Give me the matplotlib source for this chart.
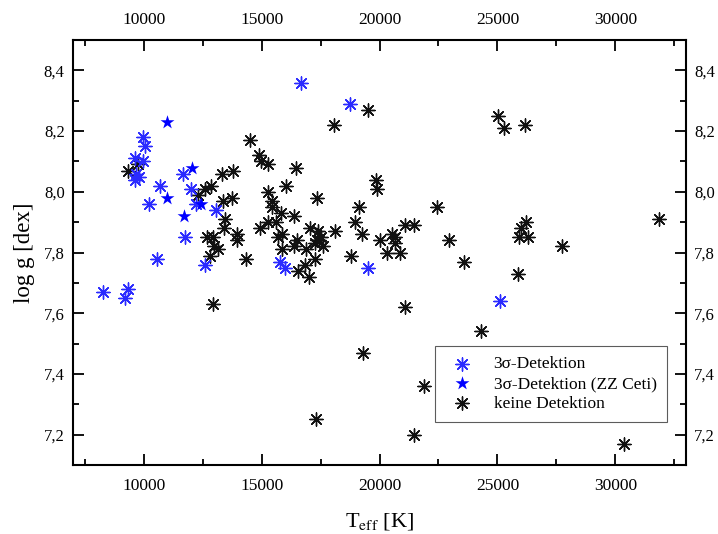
import matplotlib

matplotlib.use("Agg")
import matplotlib.pyplot as plt  # noqa: E402
from matplotlib.ticker import FuncFormatter, MultipleLocator  # noqa: E402

# 3sigma detections (plain asterisks)
det_teff = [16660, 18750, 9960, 10060, 9630, 9960, 9680, 9790, 9650, 11675,
            10680, 12010, 10210, 12200, 13050, 11730, 10570, 12610, 15800,
            15980, 8290, 9320, 9220, 19500, 25130]
det_logg = [8.36, 8.29, 8.18, 8.15, 8.11, 8.10, 8.06, 8.05, 8.04, 8.06,
            8.02, 8.01, 7.96, 7.96, 7.94, 7.85, 7.78, 7.76, 7.77,
            7.75, 7.67, 7.68, 7.65, 7.75, 7.64]

# 3sigma detections, ZZ Ceti stars
zz_teff = [11000, 12060, 10980, 12440, 11700]
zz_logg = [8.23, 8.08, 7.98, 7.96, 7.92]

# no detection
non_teff = [9320, 9745, 12300, 12600, 12850, 13300, 13780, 14490, 14880, 14990,
            15270, 16450, 15270, 15420, 15460, 15840, 16370, 16050, 17360, 13740,
            13360, 13460, 13390, 12700, 12930, 12960, 13150, 12790, 13970, 13970,
            14320, 12930, 14920, 15270, 15630, 15700, 15860, 15870, 16370, 16480,
            16550, 16830, 16900, 17020, 17050, 17260, 17330, 17400, 17510, 17620,
            17270, 17450, 18080, 19510, 19850, 19880, 19120, 18940, 18100, 19240,
            18800, 20000, 20550, 20670, 20670, 20300, 20880, 21100, 21450, 22420,
            22950, 23600, 25020, 25280, 26170, 25990, 26210, 25930, 26310, 25880,
            27740, 31870, 21100, 24300, 19300, 21880, 17290, 21470, 30370]
non_logg = [8.07, 8.09, 7.99, 8.01, 8.02, 8.06, 8.07, 8.17, 8.12, 8.10,
            8.09, 8.08, 8.00, 7.97, 7.95, 7.93, 7.92, 8.02, 7.98, 7.98,
            7.97, 7.91, 7.88, 7.85, 7.85, 7.82, 7.81, 7.79, 7.86, 7.84,
            7.78, 7.63, 7.88, 7.90, 7.90, 7.85, 7.86, 7.81, 7.82, 7.84,
            7.74, 7.76, 7.81, 7.72, 7.88, 7.78, 7.84, 7.87, 7.85, 7.82,
            7.83, 7.84, 8.22, 8.27, 8.04, 8.01, 7.95, 7.90, 7.87, 7.86,
            7.79, 7.84, 7.86, 7.85, 7.83, 7.80, 7.80, 7.89, 7.89, 7.95,
            7.84, 7.77, 8.25, 8.21, 8.22, 7.88, 7.90, 7.85, 7.85, 7.73,
            7.82, 7.91, 7.62, 7.54, 7.47, 7.36, 7.25, 7.20, 7.17]

plt.rcParams["font.family"] = ["Liberation Serif", "DejaVu Serif"]
plt.rcParams["mathtext.fontset"] = "stix"

fig, ax = plt.subplots(figsize=(7.18, 5.34), dpi=100)
fig.subplots_adjust(left=73 / 718, right=686 / 718, top=1 - 40 / 534,
                    bottom=1 - 465 / 534)

star8 = (8, 2, 0)
ax.scatter(det_teff, det_logg, marker=star8, s=90, color="#2a2aff", lw=1.0,
           label="3σ-Detektion", zorder=3)
ax.scatter(zz_teff, zz_logg, marker="*", s=110, color="#0000ff", lw=0,
           label="3σ-Detektion (ZZ Ceti)", zorder=4)
ax.scatter(non_teff, non_logg, marker=star8, s=90, color="#111111", lw=1.0,
           label="keine Detektion", zorder=2)

ax.set_xlim(7000, 33000)
ax.set_ylim(7.1, 8.5)
ax.xaxis.set_major_locator(MultipleLocator(5000))
ax.xaxis.set_minor_locator(MultipleLocator(2500))
ax.yaxis.set_major_locator(MultipleLocator(0.2))
ax.yaxis.set_minor_locator(MultipleLocator(0.1))
ax.yaxis.set_major_formatter(FuncFormatter(lambda v, _: f"{v:.1f}".replace(".", ",")))

ax.tick_params(which="both", direction="in", top=True, right=True,
               labeltop=True, labelright=True, labelsize=12.5, width=1.3)
ax.tick_params(axis="x", pad=9)
ax.tick_params(axis="y", pad=6, labelsize=12)
ax.tick_params(which="major", length=8)
ax.tick_params(which="minor", length=4)
for sp in ax.spines.values():
    sp.set_linewidth(1.5)

ax.set_xlabel(r"T$_{\rm eff}$ [K]", fontsize=16)
ax.set_ylabel("log g [dex]", fontsize=16.5)
ax.xaxis.set_label_coords(0.5, -0.108)
ax.yaxis.set_label_coords(-0.062, 0.5)

leg = ax.legend(loc="lower right", bbox_to_anchor=(0.969, 0.101), fontsize=12.5,
                frameon=True, fancybox=False, edgecolor="#333333",
                borderpad=0.6, handletextpad=0.8, labelspacing=0.2,
                borderaxespad=0)
leg.get_frame().set_linewidth(0.8)

fig.savefig("out.png", dpi=100)
